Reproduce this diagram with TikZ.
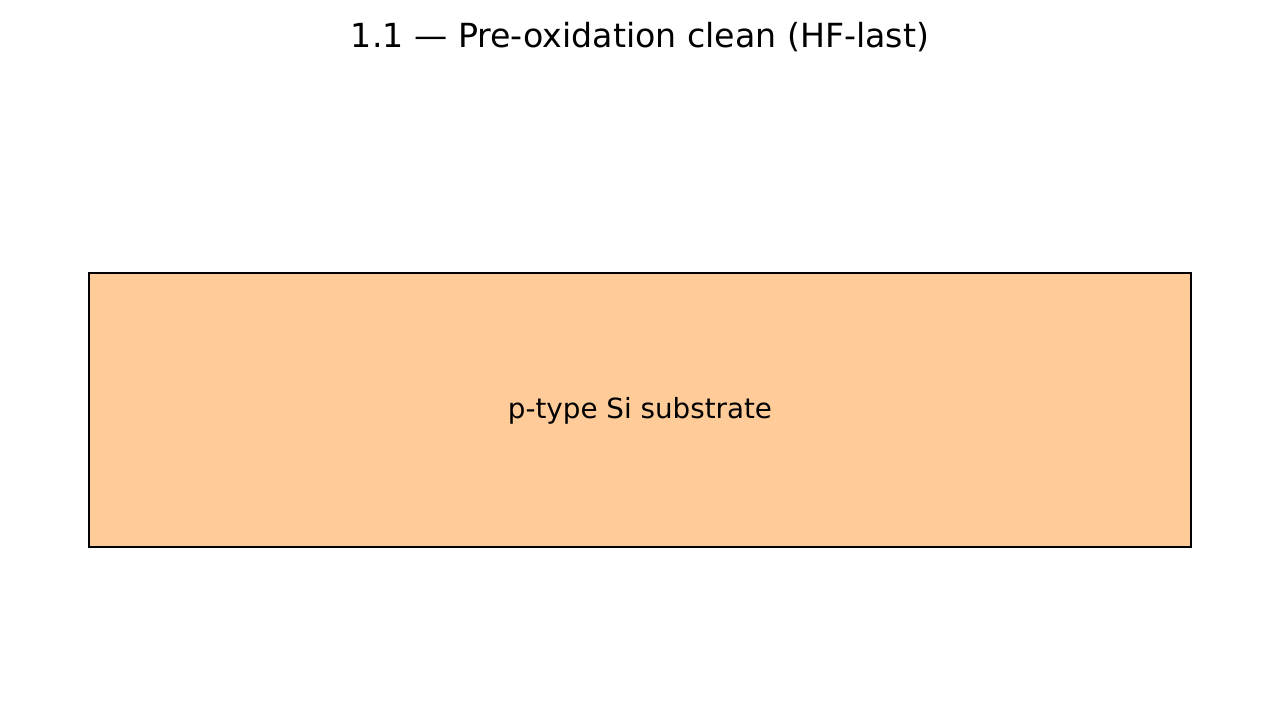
\documentclass[tikz,border=0pt]{standalone}
\usepackage{fontspec}
\setmainfont{DejaVu Sans}
\usepackage{tikz}
\usetikzlibrary{positioning}
\definecolor{siorange}{HTML}{FFCC99}
\tikzset{layer/.style={draw=black, fill=siorange, line width=1.3pt, inner sep=0pt, outer sep=0pt}}
\tikzset{ttl/.style={font=\fontsize{18.9pt}{22pt}\selectfont}}
\tikzset{lbl/.style={font=\fontsize{15.8pt}{19pt}\selectfont}}

\begin{document}
\begin{tikzpicture}
		\useasboundingbox (0,0) rectangle (25.6,14.08);
		\node[ttl] (title) at (12.8,13.34) {1.1 --- Pre-oxidation clean (HF-last)};
		
		\node[layer, minimum width=22.04cm, minimum height=5.48cm] (sub) at (12.8,5.88) {};
		\node[lbl] (sublabel) at ([yshift=-0.02cm]sub.center) {p-type Si substrate};
		
		\end{tikzpicture}
\end{document}
